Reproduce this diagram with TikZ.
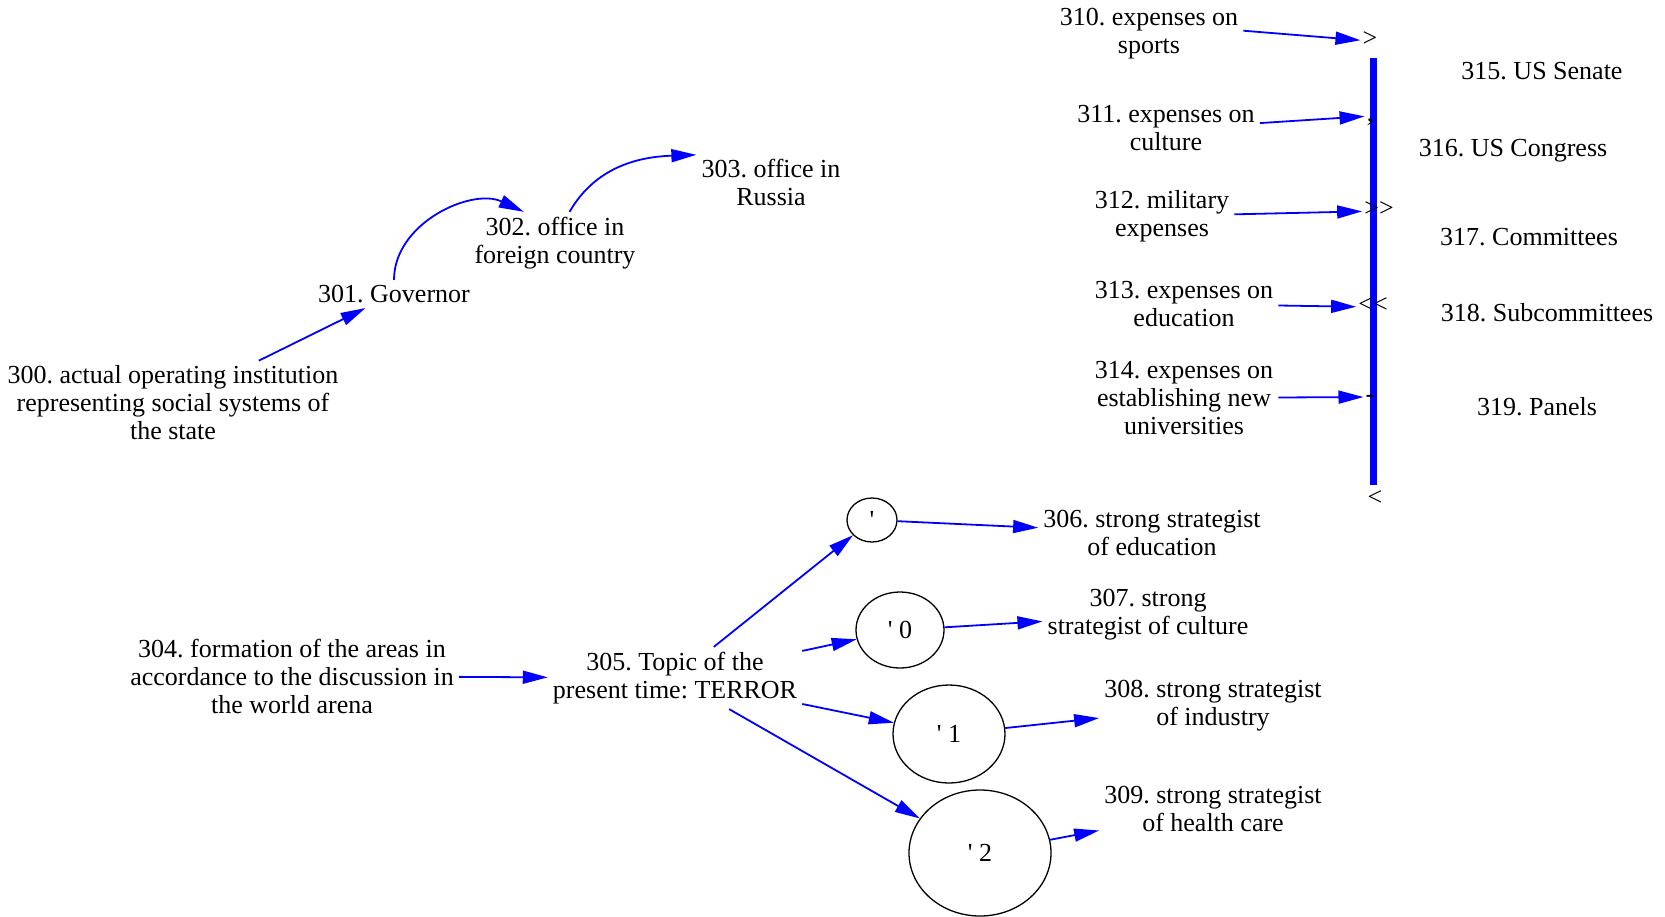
\documentclass[tikz,border=0pt]{standalone}
\usepackage{fontspec}
\newfontfamily\tnr{Liberation Serif}
\usetikzlibrary{arrows.meta,shapes.geometric}
\frenchspacing
\begin{document}
\begin{tikzpicture}[x=1pt,y=-1pt,
  lbl/.style={font=\tnr\fontsize{26}{28}\selectfont, align=center, inner sep=5pt},
  mk/.style={font=\tnr\fontsize{26}{28}\selectfont, inner sep=2pt, text height=17pt, text depth=6pt},
  ell/.style={draw, ellipse, line width=1.3pt, font=\tnr\fontsize{26}{28}\selectfont, inner sep=0pt},
  arr/.style={draw=blue, line width=1.8pt, -{Triangle[length=25pt,width=13pt]}}
]
\fill[white] (0,0) rectangle (1665,916);
\useasboundingbox (0,0) rectangle (1665,916);

% upper left chain
\node[lbl] (t300) at (173,403) {300. actual operating institution\\representing social systems of\\the state};
\node[lbl] (t301) at (394,294) {301. Governor};
\node[lbl] (t302) at (555,243) {302. office in\\foreign country};
\node[lbl] (t303) at (771,182) {303. office in\\Russia};

% lower chain
\node[lbl] (t304) at (292,676) {304. formation of the areas in\\accordance to the discussion in\\the world arena};
\node[lbl] (t305) at (675,678) {305. Topic of the\\present time: TERROR};
\node[ell, minimum width=50pt, minimum height=44pt] (e0) at (872,520) {'};
\node[ell, minimum width=88pt, minimum height=76pt] (e1) at (900,630) {' 0};
\node[ell, minimum width=112pt, minimum height=98pt] (e2) at (949,734) {' 1};
\node[ell, minimum width=142pt, minimum height=126pt] (e3) at (980,853) {' 2};
\node[lbl] (t306) at (1152,533) {306. strong strategist\\of education};
\node[lbl] (t307) at (1148,615) {307. strong\\strategist of culture};
\node[lbl] (t308) at (1213,706) {308. strong strategist\\of industry};
\node[lbl] (t309) at (1213,809) {309. strong strategist\\of health care};

% right part
\node[lbl] (t310) at (1149,34) {310. expenses on\\sports};
\node[lbl] (t311) at (1166,128) {311. expenses on\\culture};
\node[lbl] (t312) at (1162,216) {312. military\\expenses};
\node[lbl] (t313) at (1184,304) {313. expenses on\\education};
\node[lbl] (t314) at (1184,398) {314. expenses on\\establishing new\\universities};

\node[fill=blue, minimum width=7pt, minimum height=427pt, inner sep=0pt] (bar) at (1373,271.5) {};

\node[mk] (m310) at (1370,41) {>};
\node[mk] (m311) at (1370,116) {,};
\node[mk] (m312) at (1379,211) {>>};
\node[mk] (m313) at (1373,307) {<<};
\node[mk] (m314) at (1370,397) {-};
\node[mk] (m319) at (1375,500) {<};

\node[lbl] (t315) at (1542,71) {315. US Senate};
\node[lbl] (t316) at (1513,151) {316. US Congress};
\node[lbl] (t317) at (1529,237) {317. Committees};
\node[lbl] (t318) at (1547,313) {318. Subcommittees};
\node[lbl] (t319) at (1537,407) {319. Panels};

% connectors
\draw[arr] (t300) -- (t301);
\draw[arr] (t301.north) to[out=90,in=155] (t302.135);
\draw[arr] (t302.65) to[out=60,in=182] (t303.160);
\draw[arr] (t304) -- (t305);
\draw[arr] (t305) -- (e0);
\draw[arr] (t305) -- (e1);
\draw[arr] (t305) -- (e2);
\draw[arr] (t305) -- (e3);
\draw[arr] (e0) -- (t306);
\draw[arr] (e1) -- (t307);
\draw[arr] (e2) -- (t308);
\draw[arr] (e3) -- (t309);
\draw[arr] (t310.2) -- (m310);
\draw[arr] (t311.3) -- (m311);
\draw[arr] (t312) -- (m312);
\draw[arr] (t313) -- (m313);
\draw[arr] (t314) -- (m314);
\end{tikzpicture}
\end{document}
